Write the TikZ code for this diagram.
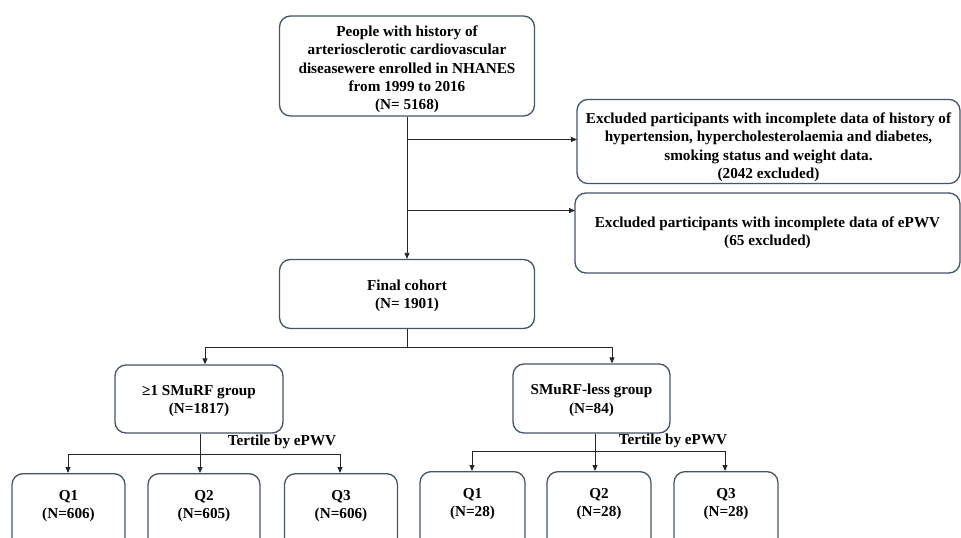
\documentclass[tikz,border=0pt]{standalone}
\usepackage{fontspec}
\setmainfont{Liberation Serif}
\usetikzlibrary{arrows.meta,calc}
\definecolor{boxc}{HTML}{44546A}
\newcommand\myup[1]{\rule{0pt}{#1}}
\tikzset{
  box/.style={draw=boxc, line width=1.3pt, rounded corners=11pt, align=center,
    font=\bfseries\fontsize{15.2}{18.3}\selectfont, inner sep=2pt, fill=white},
  conn/.style={draw=black!85, line width=0.8pt},
  arr/.style={conn, -{Triangle[length=6pt,width=5pt]}},
  lbl/.style={font=\bfseries\fontsize{15.2}{16}\selectfont, inner sep=0pt}
}
\begin{document}
\begin{tikzpicture}[x=1pt,y=-1pt]
\clip (0,0) rectangle (961,538);
\fill[white] (0,0) rectangle (961,538);
% main boxes
\node[box, minimum width=255pt, minimum height=100pt] (top) at (407,66)
  {\myup{17.5pt}People with history of\\arteriosclerotic cardiovascular\\diseasewere enrolled in NHANES\\from 1999 to 2016\\(N= 5168)};
\node[box, minimum width=383pt, minimum height=81pt] (ex1) at (768.5,141.5)
  {\myup{22pt}Excluded participants with incomplete data of history of\\hypertension, hypercholesterolaemia and diabetes,\\smoking status and weight data.\\(2042 excluded)};
\node[box, minimum width=385pt, minimum height=80pt] (ex2) at (767.5,233)
  {Excluded participants with incomplete data of ePWV\\(65 excluded)};
\node[box, minimum width=255pt, minimum height=69pt] (fin) at (407,294)
  {\myup{14.5pt}Final cohort\\(N= 1901)};
\node[box, minimum width=168pt, minimum height=68pt] (g1) at (199,399)
  {\myup{14.5pt}≥1 SMuRF group\\(N=1817)};
\node[box, minimum width=157pt, minimum height=69pt] (g2) at (591.5,398.5)
  {\myup{14.5pt}SMuRF-less group\\(N=84)};
% quartile boxes
\node[box, minimum width=113pt, minimum height=80pt, anchor=north] (q1) at (68.5,473) {Q1\\(N=606)\\~};
\node[box, minimum width=112pt, minimum height=80pt, anchor=north] (q2) at (204,473) {Q2\\(N=605)\\~};
\node[box, minimum width=113pt, minimum height=80pt, anchor=north] (q3) at (341,473) {Q3\\(N=606)\\~};
\node[box, minimum width=105pt, minimum height=80pt, anchor=north] (r1) at (472.5,471) {Q1\\(N=28)\\~};
\node[box, minimum width=104pt, minimum height=80pt, anchor=north] (r2) at (599,471) {Q2\\(N=28)\\~};
\node[box, minimum width=104pt, minimum height=80pt, anchor=north] (r3) at (726,471) {Q3\\(N=28)\\~};
% connectors
\coordinate (e1) at (577,139.5);
\coordinate (e2) at (575,210.5);
\draw[arr] (top.south) -- (fin.north);
\draw[arr] (top.south |- e1) -- (e1);
\draw[arr] (top.south |- e2) -- (e2);
\coordinate (fk) at (407,347);
\coordinate (fl) at (205,347);
\coordinate (fr) at (612,347);
\draw[conn] (fin.south) -- (fk);
\draw[conn] (fl) -- (fr);
\draw[arr] (fl) -- (fl |- g1.north);
\draw[arr] (fr) -- (fr |- g2.north);
% left tertiles
\coordinate (lk) at (200,454);
\coordinate (ll) at (68,454);
\coordinate (lr) at (340,454);
\draw[conn] (lk |- g1.south) -- (lk);
\draw[conn] (ll) -- (lr);
\draw[arr] (ll) -- (ll |- q1.north);
\draw[arr] (lk) -- (lk |- q2.north);
\draw[arr] (lr) -- (lr |- q3.north);
\node[lbl] (t1) at (282,442) {Tertile by ePWV};
% right tertiles
\coordinate (rk) at (595,451);
\coordinate (rl) at (472,451);
\coordinate (rr) at (725,451);
\draw[conn] (rk |- g2.south) -- (rk);
\draw[conn] (rl) -- (rr);
\draw[arr] (rl) -- (rl |- r1.north);
\draw[arr] (rk) -- (rk |- r2.north);
\draw[arr] (rr) -- (rr |- r3.north);
\node[lbl] (t2) at (673,441) {Tertile by ePWV};
\end{tikzpicture}
\end{document}
